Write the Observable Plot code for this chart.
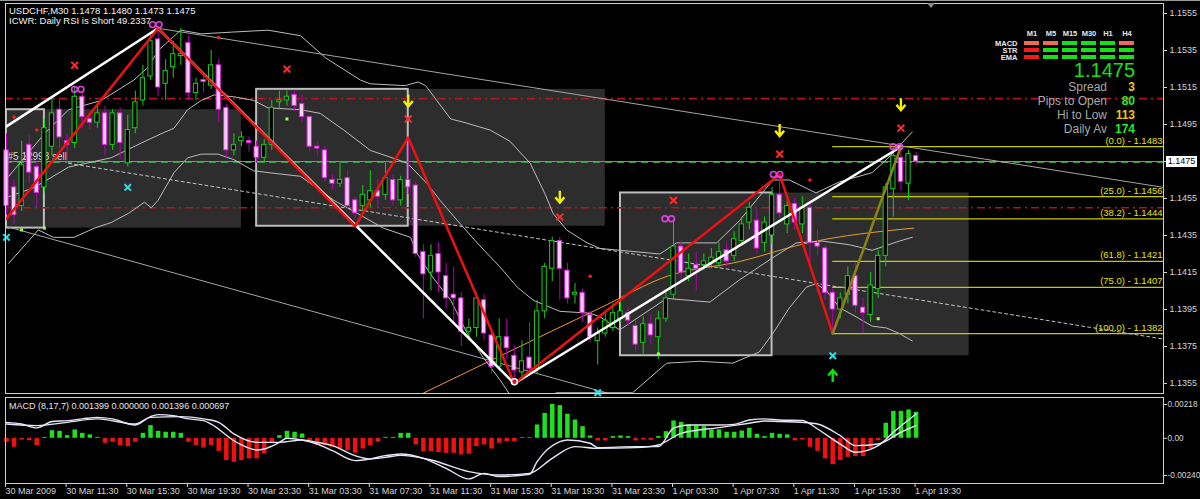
<!DOCTYPE html>
<html><head><meta charset="utf-8">
<script src="https://cdn.jsdelivr.net/npm/d3@7"></script>
<script src="https://cdn.jsdelivr.net/npm/@observablehq/plot@0.6"></script>
<style>
html,body{margin:0;padding:0;background:#000;}
#wrap{position:relative;width:1200px;height:499px;background:#000;overflow:hidden;font-family:"Liberation Sans",Arial,sans-serif;}
#wrap svg{position:absolute;left:0;overflow:visible;}
.t{position:absolute;white-space:nowrap;}
</style></head><body>
<div id="wrap"></div>
<script>
// ---------------- DATA ----------------
const titleText = "USDCHF,M30 1.1478 1.1480 1.1473 1.1475";
const subTitle = "ICWR: Daily RSI is Short 49.2337";
const macdTitle = "MACD  (8,17,7) 0.001399 0.000000 0.001396 0.000697";
const timeTickBars = [0,8,16,24,32,40,48,56,64,72,80,88,96,104,112,120];
const timeLabels = ["30 Mar 2009","30 Mar 11:30","30 Mar 15:30","30 Mar 19:30","30 Mar 23:30","31 Mar 03:30","31 Mar 07:30","31 Mar 11:30","31 Mar 15:30","31 Mar 19:30","31 Mar 23:30","1 Apr 03:30","1 Apr 07:30","1 Apr 11:30","1 Apr 15:30","1 Apr 19:30"];
const priceTicks = [1.1555,1.1535,1.1515,1.1495,1.1475,1.1455,1.1435,1.1415,1.1395,1.1375,1.1355];
const macdTicks = [0.00218, 0, -0.0024];
const macdTickLabels = ["0.00218","0.00","-0.00240"];
const xDomain = [-0.13, 152.64];
const priceDomain = [1.134959, 1.156041];
const macdDomain = [-0.002916, 0.002632];

const open = [
1.1481,1.1461,1.1451,1.1484,1.1472,1.1461,1.1483,1.1503,1.1486,1.1485,
1.1510,1.1498,1.1496,1.1501,1.1484,1.1501,1.1474,1.1493,1.1508,1.1521,
1.1541,1.1517,1.1526,1.1532,1.1539,1.1512,1.1519,1.1516,1.1527,1.1504,
1.1481,1.1486,1.1486,1.1483,1.1477,1.1484,1.1507,1.1508,1.1511,1.1506,
1.1499,1.1483,1.1481,1.1465,1.1463,1.1466,1.1454,1.1451,1.1454,1.1459,
1.1457,1.1465,1.1454,1.1465,1.1462,1.1426,1.1415,1.1425,1.1413,1.1403,
1.1401,1.1383,1.1385,1.1400,1.1381,1.1364,1.1380,1.1370,1.1361,1.1369,
1.1363,1.1394,1.1417,1.1432,1.1416,1.1403,1.1404,1.1392,1.1378,1.1382,
1.1385,1.1390,1.1393,1.1386,1.1377,1.1387,1.1380,1.1390,1.1403,1.1429,
1.1413,1.1419,1.1419,1.1420,1.1420,1.1427,1.1424,1.1432,1.1442,1.1443,
1.1431,1.1435,1.1457,1.1441,1.1452,1.1441,1.1450,1.1431,1.1428,1.1404,
1.1395,1.1403,1.1413,1.1396,1.1392,1.1406,1.1424,1.1460,1.1477,1.1463,
1.1478];
const high = [
1.1490,1.1465,1.1486,1.1489,1.1476,1.1498,1.1510,1.1508,1.1490,1.1515,
1.1513,1.1501,1.1505,1.1505,1.1503,1.1504,1.1500,1.1513,1.1527,1.1543,
1.1547,1.1530,1.1540,1.1547,1.1543,1.1520,1.1522,1.1535,1.1530,1.1506,
1.1490,1.1491,1.1488,1.1486,1.1487,1.1508,1.1513,1.1513,1.1513,1.1511,
1.1500,1.1486,1.1483,1.1468,1.1475,1.1470,1.1456,1.1462,1.1470,1.1465,
1.1475,1.1468,1.1467,1.1488,1.1464,1.1430,1.1430,1.1431,1.1420,1.1418,
1.1404,1.1390,1.1404,1.1403,1.1385,1.1390,1.1390,1.1375,1.1378,1.1388,
1.1400,1.1420,1.1434,1.1434,1.1420,1.1409,1.1406,1.1394,1.1385,1.1393,
1.1398,1.1400,1.1396,1.1389,1.1391,1.1392,1.1394,1.1404,1.1443,1.1432,
1.1425,1.1426,1.1425,1.1428,1.1431,1.1431,1.1437,1.1445,1.1453,1.1449,
1.1445,1.1461,1.1468,1.1456,1.1455,1.1456,1.1453,1.1438,1.1430,1.1406,
1.1404,1.1418,1.1420,1.1401,1.1415,1.1427,1.1463,1.1483,1.1483,1.1481,
1.1480];
const low = [
1.1446,1.1441,1.1448,1.1463,1.1450,1.1458,1.1478,1.1482,1.1474,1.1482,
1.1493,1.1492,1.1493,1.1478,1.1481,1.1476,1.1472,1.1490,1.1505,1.1519,
1.1510,1.1508,1.1520,1.1527,1.1508,1.1508,1.1512,1.1514,1.1496,1.1477,
1.1478,1.1483,1.1480,1.1474,1.1474,1.1481,1.1503,1.1505,1.1502,1.1496,
1.1480,1.1478,1.1464,1.1460,1.1461,1.1449,1.1444,1.1448,1.1450,1.1450,
1.1454,1.1451,1.1451,1.1457,1.1423,1.1390,1.1405,1.1404,1.1395,1.1388,
1.1375,1.1378,1.1380,1.1378,1.1360,1.1362,1.1368,1.1355,1.1357,1.1359,
1.1360,1.1390,1.1410,1.1400,1.1398,1.1398,1.1388,1.1377,1.1365,1.1380,
1.1383,1.1388,1.1386,1.1372,1.1370,1.1376,1.1368,1.1388,1.1400,1.1411,
1.1410,1.1405,1.1416,1.1417,1.1417,1.1418,1.1421,1.1430,1.1438,1.1425,
1.1426,1.1430,1.1444,1.1436,1.1438,1.1436,1.1420,1.1424,1.1400,1.1382,
1.1390,1.1398,1.1393,1.1382,1.1388,1.1401,1.1418,1.1445,1.1459,1.1454,
1.1473];
const close = [
1.1451,1.1446,1.1473,1.1469,1.1458,1.1493,1.1501,1.1488,1.1484,1.1510,
1.1499,1.1496,1.1501,1.1484,1.1501,1.1485,1.1492,1.1507,1.1520,1.1540,
1.1515,1.1524,1.1533,1.1533,1.1512,1.1517,1.1518,1.1527,1.1503,1.1481,
1.1484,1.1488,1.1485,1.1477,1.1484,1.1504,1.1508,1.1510,1.1505,1.1499,
1.1483,1.1482,1.1466,1.1463,1.1465,1.1451,1.1447,1.1457,1.1459,1.1456,
1.1466,1.1454,1.1465,1.1461,1.1425,1.1414,1.1424,1.1415,1.1401,1.1401,
1.1383,1.1385,1.1401,1.1382,1.1364,1.1380,1.1374,1.1362,1.1367,1.1363,
1.1394,1.1418,1.1432,1.1417,1.1401,1.1404,1.1393,1.1380,1.1382,1.1389,
1.1393,1.1394,1.1389,1.1376,1.1387,1.1381,1.1390,1.1401,1.1429,1.1415,
1.1417,1.1417,1.1421,1.1423,1.1426,1.1421,1.1433,1.1441,1.1450,1.1428,
1.1442,1.1457,1.1447,1.1451,1.1442,1.1450,1.1431,1.1429,1.1404,1.1395,
1.1401,1.1413,1.1397,1.1393,1.1408,1.1424,1.1461,1.1478,1.1464,1.1479,
1.1475];

const macdHist = [
-0.00026,-0.00058,-0.00011,-0.00015,-0.00047,0.00006,0.00049,0.00045,0.00017,0.00054,
0.00032,0.00022,0.00006,-0.00032,-0.00026,-0.00047,-0.00054,-0.00026,0.00032,0.00082,
0.00045,0.00039,0.00039,0.00032,-0.00026,-0.00047,-0.00062,-0.00047,-0.00084,-0.00144,
-0.00155,-0.00144,-0.00133,-0.00133,-0.00101,-0.00032,0.00017,0.00045,0.00039,0.00028,
-0.00015,-0.00047,-0.00047,-0.00058,-0.00069,-0.00080,-0.00097,-0.00069,-0.00047,-0.00026,
0.00006,0.00006,0.00032,0.00032,-0.00043,-0.00086,-0.00086,-0.00092,-0.00097,-0.00097,
-0.00108,-0.00103,-0.00054,-0.00043,-0.00069,-0.00032,-0.00022,-0.00022,0.00004,0.00004,
0.00086,0.00161,0.00219,0.00211,0.00155,0.00118,0.00075,0.00015,-0.00017,-0.00017,
0.00011,0.00015,0.00011,-0.00017,-0.00011,-0.00013,0.00011,0.00043,0.00112,0.00103,
0.00086,0.00080,0.00075,0.00054,0.00054,0.00039,0.00039,0.00047,0.00065,0.00026,
0.00011,0.00032,0.00026,0.00022,-0.00017,-0.00011,-0.00058,-0.00084,-0.00133,-0.00170,
-0.00144,-0.00123,-0.00118,-0.00118,-0.00069,-0.00015,0.00097,0.00174,0.00174,0.00183,
0.00168];
const macdMain = [[0,0.00103],[2,0.00092],[4,0.00067],[6,0.00108],[8,0.00114],[10,0.00125],[12,0.00135],[14,0.00125],[17,0.00086],[19,0.0014],[20,0.00153],[22,0.00146],[24,0.00125],[26,0.00114],[27,0.00092],[30,-0.00015],[31,-0.00043],[33,-0.00075],[34,-0.00069],[36,-0.00026],[37,0],[39,-0.00011],[41,-0.00037],[43,-0.0008],[46,-0.00144],[48,-0.00133],[50,-0.00112],[52,-0.00101],[55,-0.00129],[58,-0.00194],[61,-0.00262],[63,-0.00226],[65,-0.00247],[69,-0.00232],[70,-0.00151],[73,-0.00022],[74,-0.00011],[77,-0.00032],[78,-0.0006],[83,-0.00054],[86,-0.00054],[88,0.00065],[90,0.00086],[94,0.00086],[96,0.0009],[98,0.00118],[100,0.00125],[102,0.00118],[105,0.00115],[107,0.0006],[110,-0.00037],[112,-0.0009],[115,-0.00047],[117,0.00039],[120,0.00157]];
const macdSignal = [[0,0.00092],[4,0.00082],[8,0.00103],[12,0.00125],[17,0.00092],[19,0.00135],[23,0.0014],[26,0.00125],[28,0.00103],[30,0.00028],[33,-0.00026],[36,-0.00026],[39,-0.00011],[41,-0.00026],[43,-0.00047],[46,-0.00112],[48,-0.00133],[50,-0.00123],[52,-0.0011],[56,-0.0014],[61,-0.00215],[65,-0.00237],[69,-0.00226],[72,-0.00129],[75,-0.00054],[78,-0.00065],[83,-0.0006],[86,-0.00043],[89,0.00032],[94,0.00069],[98,0.00097],[100,0.00112],[102,0.00108],[105,0.00103],[107,0.00092],[110,0.00017],[112,-0.00047],[115,-0.00037],[118,0.00039],[120,0.00082]];

const upperBand = [[0.3,1.1467],[5,1.149],[8.2,1.1503],[12.5,1.1508],[16.8,1.1519],[18.7,1.1526],[20,1.1535],[21.1,1.1539],[23,1.1546],[25.7,1.1544],[30,1.1545],[34.5,1.1546],[38.8,1.1543],[42.1,1.1531],[46.7,1.1519],[48,1.1517],[52.6,1.1516],[54.3,1.1518],[55.3,1.1516],[58.6,1.1498],[60.5,1.1496],[63.8,1.1492],[66.4,1.1486],[69.1,1.1474],[71.1,1.1457],[72.1,1.1447],[73.9,1.1438],[76.6,1.1431],[78.3,1.1428],[86.2,1.1425],[88.4,1.1431],[93.7,1.1431],[96.7,1.1443],[101.1,1.1465],[103.3,1.1465],[106.8,1.1458],[109.9,1.1464],[114.2,1.1469],[116.1,1.1476],[119.5,1.1491]];
const middleBand = [[0.3,1.1456],[3.7,1.1461],[8.2,1.1472],[13.8,1.1477],[17.8,1.1485],[20.4,1.149],[22.1,1.1493],[23.9,1.1503],[25.7,1.1508],[27.4,1.1511],[30,1.151],[32.6,1.1508],[34.5,1.1504],[38.8,1.1503],[41.4,1.1501],[44.5,1.1492],[48,1.1481],[51.6,1.1476],[52.9,1.1474],[55.5,1.1463],[57.2,1.1454],[59.5,1.1443],[62.1,1.1431],[65.1,1.1418],[67.4,1.1407],[69.5,1.14],[73,1.1394],[77,1.1393],[78.3,1.1391],[80.9,1.1384],[87.1,1.1401],[92.8,1.1399],[96.7,1.1411],[101.1,1.1423],[104.2,1.1431],[107.6,1.1432],[111.2,1.143],[114.2,1.1427],[117.8,1.1432],[119.5,1.1434]];
const lowerBand = [[0.3,1.142],[4.2,1.1438],[6.2,1.1434],[8.9,1.1434],[11.6,1.1439],[13.8,1.1442],[16.1,1.1447],[18.2,1.1453],[19.1,1.145],[20,1.1454],[22.1,1.1469],[23.9,1.1477],[25.7,1.1479],[27.9,1.1479],[30,1.1476],[32.6,1.147],[34.5,1.1469],[38.8,1.1467],[43.2,1.1454],[46.7,1.1446],[49.7,1.1439],[53.3,1.1434],[54.2,1.1425],[56.3,1.1412],[58.6,1.14],[60.8,1.1382],[62.9,1.1369],[65.1,1.1357],[66.4,1.1349],[69.1,1.1345],[72.6,1.135],[78.3,1.135],[82.6,1.135],[87.1,1.1366],[91.4,1.1367],[95.8,1.1366],[99.3,1.1372],[101.1,1.1382],[103.3,1.1396],[105.5,1.1407],[106.8,1.1409],[108.2,1.1405],[109.9,1.1396],[112.1,1.1391],[114.2,1.1386],[116.1,1.1385],[117.8,1.1382],[119.5,1.1378]];
const slowMA = [[54.6,1.1349],[65.2,1.137],[78.4,1.1396],[87.2,1.1413],[96.8,1.1421],[105.7,1.1431],[119.7,1.1439]];

const upperTrend = [[20,1.1547],[152.64,1.1461]];
const lowerTrend = [[-0.13,1.1440],[80,1.1349]];
const dashedTrend = [[8.2,1.1474],[152.64,1.1379]];
const whiteZigzag = [[0,1.1494],[20,1.1547],[67,1.1355],[118,1.1483]];
const redZigzag = [[0,1.1444],[20,1.1547],[46,1.144],[53,1.1488],[67,1.1355],[102,1.1468],[109,1.1382]];
const oliveZigzag = [[109,1.1382],[118,1.1483]];

const redLevels = [1.1509, 1.1450];
const bidPrice = 1.1475;
const orderText = "#5 12993 sell";
const fibLevels = ["0.0","25.0","38.2","61.8","75.0","100.0"];
const fibPrices = [1.1483,1.1456,1.1444,1.1421,1.1407,1.1382];
const fibStartBar = 109;

const boxStart = [0, 33, 81];
const boxEnd = [5, 53, 101];
const boxFillEnd = [31, 79, 127];
const boxLow = [1.1439, 1.1440, 1.1370];
const boxHigh = [1.1503, 1.1514, 1.1458];

const redCrosses = [[9,1.1527],[37,1.1525],[53,1.1498],[73,1.1445],[88,1.1454],[102,1.1479],[118,1.1493]];
const redDots = [[28,1.1542],[1,1.1499],[4,1.1492],[106,1.1465],[77,1.1413]];
const yellowArrows = [[53,1.1508],[73,1.1456],[102,1.1492],[118,1.1506]];
const greenArrows = [[109,1.1359]];
const cyanCrosses = [[16,1.1461],[0,1.1434],[109,1.1370],[78,1.1350]];
const pinkPairs = [[9.4,1.1514],[19.7,1.1549],[87.3,1.1444],[101.6,1.1468],[117.4,1.1483]];
const whiteCircles = [[67,1.1356]];
const limeSquares = [[37,1.1498],[2,1.1438],[5,1.1439],[86,1.1371],[115,1.1390]];

const timeframes = ["M1","M5","M15","M30","H1","H4"];
const matrixRows = ["MACD","STR","EMA"];
const macdState = ["weak","weak","up","up","up","weak"];
const strState = ["down","up","up","up","up","up"];
const emaState = ["down","up","up","up","up","up"];
const bigPrice = "1.1475";
const infoLabels = ["Spread","Pips to Open","Hi to Low","Daily Av"];
const infoValues = ["3","80","113","174"];
const infoColors = ["#f0c419","#2ee82e","#f0c419","#2ee82e"];

// ---------------- BUILD ----------------
const wrap = document.getElementById("wrap");
try {
const bars = open.map((o, i) => ({i, o, h: high[i], l: low[i], c: close[i], up: close[i] >= o}));
const hist = macdHist.map((v, i) => ({i, v}));
const boxes = boxStart.map((s, k) => ({x1: s, x2: boxEnd[k], fx2: boxFillEnd[k], y1: boxLow[k], y2: boxHigh[k]}));
const X = d => d[0], Y = d => d[1];
const font = '"Liberation Sans", Arial, sans-serif';

const arrowDown = {draw(ctx, size){const r=Math.sqrt(size/Math.PI); ctx.moveTo(0,-r); ctx.lineTo(0,r); ctx.moveTo(-r*0.75,r*0.1); ctx.lineTo(0,r); ctx.lineTo(r*0.75,r*0.1);}};
const arrowUp = {draw(ctx, size){const r=Math.sqrt(size/Math.PI); ctx.moveTo(0,r); ctx.lineTo(0,-r); ctx.moveTo(-r*0.75,-r*0.1); ctx.lineTo(0,-r); ctx.lineTo(r*0.75,-r*0.1);}};
const pair = {draw(ctx, size){const r=Math.sqrt(size/Math.PI); const c=r*0.5, rr=r*0.45; ctx.moveTo(-c+rr,0); ctx.arc(-c,0,rr,0,2*Math.PI); ctx.moveTo(c+rr,0); ctx.arc(c,0,rr,0,2*Math.PI);}};

const main = Plot.plot({
  width: 1200, height: 395, marginLeft: 5, marginRight: 37, marginTop: 3, marginBottom: 2,
  x: {domain: xDomain, axis: null},
  y: {domain: priceDomain},
  style: {background: "transparent", color: "#d4d4d4", fontFamily: font, fontSize: "9px"},
  marks: [
    Plot.rect(boxes, {x1: "x1", x2: "fx2", y1: "y1", y2: "y2", fill: "#2d2d2d"}),
    Plot.rect(boxes, {x1: "x1", x2: "x2", y1: "y1", y2: "y2", fill: "none", stroke: "#bdbdbd", strokeWidth: 2}),
    Plot.ruleY(redLevels, {stroke: "#b4141e", strokeWidth: 1.6, strokeDasharray: "8,4,2,4"}),
    Plot.ruleY(fibPrices, {x1: () => fibStartBar, x2: () => xDomain[1], stroke: "#c8c800", strokeWidth: 1.2}),
    Plot.text(fibPrices, {y: d => d, frameAnchor: "right", text: (d, i) => `(${fibLevels[i]}) - ${d.toFixed(4)}`, textAnchor: "end", dx: -1, dy: -6, fill: "#e4e400", fontSize: 9.5}),
    Plot.ruleY([bidPrice], {stroke: "#8c8c8c", strokeWidth: 1}),
    Plot.ruleY([bidPrice], {stroke: "#2f9a3a", strokeWidth: 1, strokeDasharray: "7,5", dy: 1}),
    Plot.text([bidPrice], {x: () => xDomain[0], y: d => d, text: () => orderText, textAnchor: "start", dx: 2, dy: -5, fill: "#d8d8d8", fontSize: 10}),
    Plot.line(upperTrend, {x: X, y: Y, stroke: "#a4a4a4", strokeWidth: 1, clip: true}),
    Plot.line(lowerTrend, {x: X, y: Y, stroke: "#a4a4a4", strokeWidth: 1, clip: true}),
    Plot.line(dashedTrend, {x: X, y: Y, stroke: "#c4c4c4", strokeWidth: 1, strokeDasharray: "3,3", clip: true}),
    Plot.line(slowMA, {x: X, y: Y, stroke: "#e89a2c", strokeWidth: 1, curve: "monotone-x", clip: true}),
    Plot.line(upperBand, {x: X, y: Y, stroke: "#bcbcbc", strokeWidth: 1, clip: true}),
    Plot.line(middleBand, {x: X, y: Y, stroke: "#bcbcbc", strokeWidth: 1, clip: true}),
    Plot.line(lowerBand, {x: X, y: Y, stroke: "#bcbcbc", strokeWidth: 1, clip: true}),
    Plot.ruleX(bars, {x: "i", y1: "l", y2: "h", stroke: d => d.up ? "#19cc19" : "#b400b4", strokeWidth: 1}),
    Plot.rect(bars, {x1: d => d.i - 0.28, x2: d => d.i + 0.28, y1: "o", y2: "c", fill: d => d.up ? "#000000" : "#ffccff", stroke: d => d.up ? "#19cc19" : "#dd22dd", strokeWidth: 1}),
    Plot.line(whiteZigzag, {x: X, y: Y, stroke: "#ffffff", strokeWidth: 2.5}),
    Plot.line(redZigzag, {x: X, y: Y, stroke: "#ee1111", strokeWidth: 2.5}),
    Plot.line(oliveZigzag, {x: X, y: Y, stroke: "#8a8414", strokeWidth: 2.5}),
    Plot.dot(redCrosses, {x: X, y: Y, symbol: "times", r: 3.2, stroke: "#ff2a2a", strokeWidth: 2}),
    Plot.dot(redDots, {x: X, y: Y, r: 1.8, fill: "#ee2020"}),
    Plot.dot(yellowArrows, {x: X, y: Y, symbol: arrowDown, r: 6, stroke: "#f4f000", fill: "none", strokeWidth: 2.4}),
    Plot.dot(greenArrows, {x: X, y: Y, symbol: arrowUp, r: 6, stroke: "#00ee00", fill: "none", strokeWidth: 2.4}),
    Plot.dot(cyanCrosses, {x: X, y: Y, symbol: "times", r: 3, stroke: "#33dde6", strokeWidth: 2}),
    Plot.dot(pinkPairs, {x: X, y: Y, symbol: pair, r: 6.5, stroke: "#e040e0", fill: "none", strokeWidth: 1.6}),
    Plot.dot(whiteCircles, {x: X, y: Y, r: 3, stroke: "#ffffff", fill: "none", strokeWidth: 1.5}),
    Plot.dot(limeSquares, {x: X, y: Y, symbol: "square", r: 1.7, fill: "#99ff44"}),
    Plot.frame({stroke: "#d0d0d0", strokeWidth: 1}),
    Plot.axisY(priceTicks, {anchor: "right", tickSize: 3, tickPadding: 3, tickFormat: d3.format(".4f"), color: "#d4d4d4", label: null})
  ]
});
main.style.top = "0px";
wrap.appendChild(main);

const macd = Plot.plot({
  width: 1200, height: 104, marginLeft: 5, marginRight: 37, marginTop: 2, marginBottom: 16,
  x: {domain: xDomain},
  y: {domain: macdDomain},
  style: {background: "transparent", color: "#d4d4d4", fontFamily: font, fontSize: "9px"},
  marks: [
    Plot.ruleX(hist, {x: "i", y1: 0, y2: "v", stroke: d => d.v >= 0 ? "#1ee01e" : "#f01010", strokeWidth: 4.5}),
    Plot.line(macdMain, {x: X, y: Y, stroke: "#e6e6f6", strokeWidth: 1.4, curve: "monotone-x"}),
    Plot.line(macdSignal, {x: X, y: Y, stroke: "#e6e6f6", strokeWidth: 1.4, curve: "monotone-x"}),
    Plot.frame({stroke: "#d0d0d0", strokeWidth: 1}),
    Plot.axisX({ticks: timeTickBars, tickFormat: d => timeLabels[timeTickBars.indexOf(d)], tickSize: 4, tickPadding: 0, textAnchor: "start", dx: -1, color: "#d4d4d4", label: null}),
    Plot.axisY({anchor: "right", ticks: macdTicks, tickFormat: d => macdTickLabels[macdTicks.indexOf(d)], tickSize: 3, tickPadding: 1, fontSize: 8.3, color: "#d4d4d4", label: null})
  ]
});
macd.style.top = "395px";
wrap.appendChild(macd);

// Indicator matrix (top right)
const cells = timeframes.flatMap((t, j) => [
  {t, r: "MACD", s: macdState[j]}, {t, r: "STR", s: strState[j]}, {t, r: "EMA", s: emaState[j]}]);
const matrix = Plot.plot({
  width: 160, height: 36, marginLeft: 44, marginRight: 6, marginTop: 15, marginBottom: 2,
  x: {domain: timeframes, paddingInner: 4/19, paddingOuter: 0, axis: "top", tickSize: 0, tickPadding: 5, label: null},
  y: {domain: matrixRows, paddingInner: 0.47, paddingOuter: 0, tickSize: 0, tickPadding: 7, label: null},
  color: {domain: ["up","down","weak"], range: ["#16e016","#f01c1c","#f06a55"]},
  style: {background: "transparent", color: "#e8e8e8", fontFamily: font, fontSize: "7.5px", fontWeight: "bold"},
  marks: [Plot.cell(cells, {x: "t", y: "r", fill: "s", inset: 0})]
});
matrix.style.left = "980px"; matrix.style.top = "25px";
wrap.appendChild(matrix);

// HTML texts
function addDiv(text, css) { const d = document.createElement("div"); d.className = "t"; d.textContent = text; Object.assign(d.style, css); wrap.appendChild(d); return d; }
const topLine = document.createElement("div");
Object.assign(topLine.style, {position: "absolute", left: "0px", top: "0px", width: "1200px", height: "1px", background: "#9a9a9a"});
wrap.appendChild(topLine);
const tri = document.createElement("div");
Object.assign(tri.style, {position: "absolute", left: "927px", top: "3px", width: "0", height: "0", borderLeft: "4px solid transparent", borderRight: "4px solid transparent", borderTop: "5px solid #8a8a8a"});
wrap.appendChild(tri);
addDiv(titleText, {left: "9px", top: "5px", fontSize: "9.5px", lineHeight: "11px", color: "#f2f2f2"});
addDiv(subTitle, {left: "9px", top: "15px", fontSize: "9.5px", lineHeight: "11px", color: "#f2f2f2"});
addDiv(macdTitle, {left: "9px", top: "401px", fontSize: "9px", lineHeight: "11px", color: "#e6e6e6"});
addDiv(bigPrice, {right: "65px", top: "60px", fontSize: "20px", lineHeight: "21px", color: "#18e018"});
const rowTops = [80, 94, 108, 122];
infoLabels.forEach((lab, k) => {
  addDiv(lab, {right: "93px", top: rowTops[k] + "px", fontSize: "12px", lineHeight: "14px", color: "#a8a8a8"});
  addDiv(infoValues[k], {right: "65px", top: rowTops[k] + "px", fontSize: "12px", lineHeight: "14px", color: infoColors[k], fontWeight: "bold"});
});
const yb = main.scale("y").apply(bidPrice);
addDiv(bidPrice.toFixed(4), {left: "1166px", top: (yb - 5.5) + "px", width: "31px", height: "11px", lineHeight: "11px", fontSize: "9px", textAlign: "center", background: "#ffffff", color: "#000000"});
} catch (e) {
  const p = document.createElement("pre"); p.style.color = "red"; p.textContent = e.stack; wrap.appendChild(p);
}
</script>
</body></html>
